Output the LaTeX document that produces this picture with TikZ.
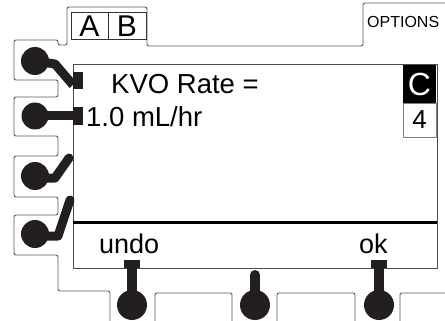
\documentclass[tikz,border=0pt]{standalone}
\usepackage{fontspec}
\setmainfont{Liberation Sans}
\definecolor{keyblack}{HTML}{231F20}
\definecolor{outlinegray}{HTML}{5A5A5A}
\begin{document}
\begin{tikzpicture}[x=1pt,y=-1pt,
  outl/.style={draw=outlinegray, line width=0.9pt, rounded corners=2pt},
  arm/.style={draw=keyblack, line width=9pt},
  stem/.style={draw=keyblack, line width=10pt},
  knob/.style={fill=keyblack},
  pad/.style={fill=keyblack},
  txt/.style={inner sep=0pt, anchor=base west, text=black}]
\useasboundingbox (0,0) rectangle (445,321);
% key outlines
\draw[outl] (110,325) -- (110,291) -- (58,291) -- (58,255) -- (14,255) -- (14,215)
  -- (58,215) -- (58,197) -- (14,197) -- (14,156) -- (58,156) -- (58,136)
  -- (14,136) -- (14,97) -- (58,97) -- (58,80) -- (14,80) -- (14,40) -- (58,40)
  -- (58,45) -- (67,45) -- (67,7) -- (147,7) -- (147,46) -- (363,46) -- (363,3) -- (450,3);
\draw[outl] (155,325) -- (155,293) -- (232,293) -- (232,325);
\draw[outl] (277,325) -- (277,293) -- (355,293) -- (355,325);
\draw[outl] (400,325) -- (400,293) -- (450,293);
% screen
\draw[draw=black!70, line width=1pt] (73,65) rectangle (437,268);
\draw[draw=black, line width=3pt] (73,222) -- (437,222);
% tab A|B
\draw[draw=black!80, line width=0.9pt] (71,12) rectangle (146,39);
\draw[draw=black!80, line width=0.9pt] (108,12) -- (108,39);
\node[font=\fontsize{30}{30}\selectfont, inner sep=0pt] (ta) at (89.5,26) {A};
\node[font=\fontsize{30}{30}\selectfont, inner sep=0pt] (tb) at (127,26) {B};
\node[txt, font=\fontsize{16}{16}\selectfont] (opt) at (367,28) {OPTIONS};
% C / 4
\fill[black] (403,65) rectangle (436,103);
\node[font=\fontsize{32}{32}\selectfont, inner sep=0pt, text=white] (cc) at (419.5,84) {C};
\draw[draw=black!50, line width=0.8pt] (403,103) rectangle (436,137);
\node[font=\fontsize{26}{26}\selectfont, inner sep=0pt] (four) at (419.5,120) {4};
% texts
\node[txt, font=\fontsize{27.5}{27.5}\selectfont] (kvo) at (111,94) {KVO Rate =};
\node[txt, font=\fontsize{27.5}{27.5}\selectfont] (rate) at (86,126) {1.0 mL/hr};
\node[txt, font=\fontsize{27}{27}\selectfont] (undo) at (99,253) {undo};
\node[txt, font=\fontsize{27}{27}\selectfont] (ok) at (359,253) {ok};
% left keys
\fill[knob] (35,61) circle (14);
\draw[arm, line join=round] (35,61) -- (55,64) -- (73,85);
\fill[pad] (73,72) rectangle (83,89);
\fill[knob] (35,116) circle (13.5);
\draw[arm] (35,116) -- (75,116);
\fill[pad] (73,107) rectangle (83,125);
\fill[knob] (35,176) circle (14);
\draw[arm, line cap=round, line join=round] (35,178) -- (55,178) -- (69,158);
\fill[knob] (35,234) circle (14);
\draw[arm, line cap=round, line join=round] (35,236) -- (58,236) -- (70,200);
% bottom keys
\fill[pad] (124,260) rectangle (140,268);
\draw[stem] (132,268) -- (132,300);
\fill[knob] (132,305) circle (15);
\draw[stem, line cap=round] (255,275) -- (255,300);
\fill[knob] (255,305) circle (15);
\fill[pad] (371,260) rectangle (387,268);
\draw[stem] (379,268) -- (379,300);
\fill[knob] (379,305) circle (15);
\end{tikzpicture}
\end{document}
